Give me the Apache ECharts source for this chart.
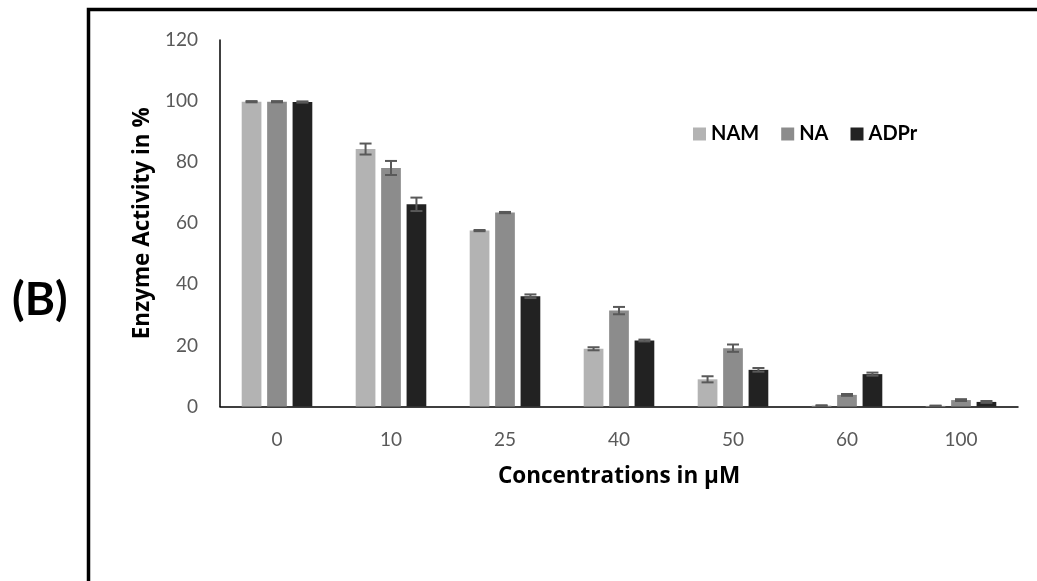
<!DOCTYPE html>
<html>
<head>
<meta charset="utf-8">
<script src="https://cdn.jsdelivr.net/npm/echarts@6/dist/echarts.min.js"></script>
<style>html,body{margin:0;padding:0;background:#fff;}#c{width:1037px;height:581px;}</style>
</head>
<body>
<div id="c"></div>
<script>
const categories = ['0', '10', '25', '40', '50', '60', '100'];
const seriesNames = ['NAM', 'NA', 'ADPr'];
const namValues = [99.8, 84.3, 57.6, 18.9, 8.9, 0.3, 0.2];
const naValues = [99.8, 78.1, 63.5, 31.4, 19.1, 3.8, 2.1];
const adprValues = [99.7, 66.2, 36.1, 21.6, 12.0, 10.6, 1.5];
const namErrors = [0.2, 1.8, 0.2, 0.5, 1.0, 0.1, 0.1];
const naErrors = [0.2, 2.3, 0.2, 1.2, 1.2, 0.3, 0.3];
const adprErrors = [0.2, 2.2, 0.6, 0.3, 0.6, 0.5, 0.3];
const yTicks = [0, 20, 40, 60, 80, 100, 120];

const colors = ['#b3b3b3', '#8c8c8c', '#222222'];
const allValues = [namValues, naValues, adprValues];
const allErrors = [namErrors, naErrors, adprErrors];
const BAR_W = 0.173, BAR_GAP = 0.29;
const FONT = 'Lato';
const TFONT = 'Open Sans';

const chart = echarts.init(document.getElementById('c'));

const barSeries = seriesNames.map((n, i) => ({
  name: n,
  type: 'bar',
  data: allValues[i],
  barWidth: (BAR_W * 100) + '%',
  barGap: (BAR_GAP * 100) + '%',
  itemStyle: { color: colors[i] },
  z: 2
}));

const errSeries = seriesNames.map((n, i) => ({
  type: 'custom',
  name: n + '_err',
  z: 5,
  silent: true,
  data: allValues[i].map((v, k) => [k, v, allErrors[i][k]]),
  renderItem: function (params, api) {
    const k = api.value(0), v = api.value(1), e = api.value(2);
    const band = api.size([1, 0])[0];
    const off = (i - 1) * band * BAR_W * (1 + BAR_GAP);
    const cx = api.coord([k, v])[0] + off;
    const yt = api.coord([k, v + e])[1];
    const yb = api.coord([k, v - e])[1];
    const hw = 6;
    const st = { stroke: '#595959', lineWidth: 2 };
    return {
      type: 'group',
      children: [
        { type: 'line', shape: { x1: cx, y1: yt, x2: cx, y2: yb }, style: st },
        { type: 'line', shape: { x1: cx - hw, y1: yt, x2: cx + hw, y2: yt }, style: st },
        { type: 'line', shape: { x1: cx - hw, y1: yb, x2: cx + hw, y2: yb }, style: st }
      ]
    };
  }
}));

chart.setOption({
  animation: false,
  backgroundColor: '#ffffff',
  textStyle: { fontFamily: FONT },
  grid: { left: 220, right: 19, top: 40, bottom: 174.5, containLabel: false },
  legend: {
    data: seriesNames,
    left: 688,
    top: 119,
    itemWidth: 13,
    itemHeight: 13,
    itemGap: 22,
    icon: 'rect',
    textStyle: { fontFamily: FONT, fontWeight: 'bold', fontSize: 20, color: '#000' }
  },
  xAxis: {
    type: 'category',
    data: categories,
    axisLine: { lineStyle: { color: '#000', width: 1.5 } },
    axisTick: { show: false },
    axisLabel: { color: '#595959', fontSize: 19, margin: 24, fontFamily: FONT },
    name: 'Concentrations in µM',
    nameLocation: 'middle',
    nameGap: 59,
    nameTextStyle: { color: '#000', fontWeight: 'bold', fontSize: 22.5, fontFamily: TFONT }
  },
  yAxis: {
    type: 'value',
    min: 0,
    max: 120,
    interval: 20,
    axisLine: { show: true, lineStyle: { color: '#000', width: 1.5 } },
    axisTick: { show: false },
    splitLine: { show: false },
    axisLabel: {
      color: '#595959', fontSize: 19, margin: 22, fontFamily: FONT,
      formatter: function (v) { return yTicks.indexOf(v) >= 0 ? String(v) : ''; }
    },
    name: 'Enzyme Activity in %',
    nameLocation: 'middle',
    nameGap: 66,
    nameTextStyle: { color: '#000', fontWeight: 'bold', fontSize: 22.5, fontFamily: TFONT }
  },
  graphic: [
    {
      type: 'polyline',
      shape: { points: [[88.5, 581], [88.5, 9.5], [1037, 9.5]] },
      style: { stroke: '#000', lineWidth: 3.5, fill: null },
      silent: true
    },
    {
      type: 'text',
      left: 12,
      top: 277,
      style: { text: '(B)', font: 'bold 46px Lato', fill: '#000' },
      silent: true
    }
  ],
  series: barSeries.concat(errSeries)
});
</script>
</body>
</html>
